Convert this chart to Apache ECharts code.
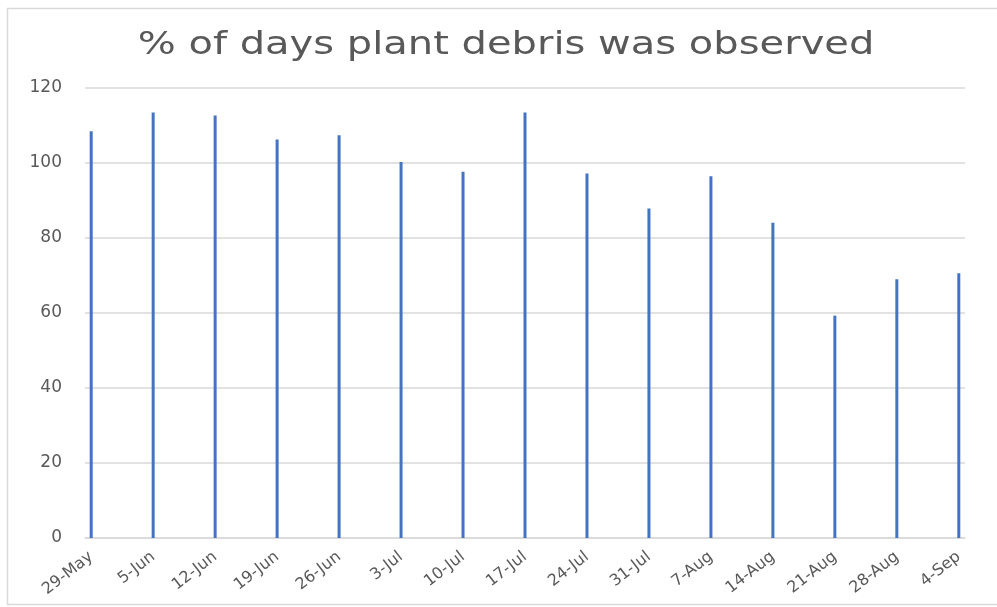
<!DOCTYPE html>
<html>
<head>
<meta charset="utf-8">
<script src="https://cdn.jsdelivr.net/npm/echarts@6/dist/echarts.min.js"></script>
<style>html,body{margin:0;padding:0;background:#fff}#c{width:997px;height:607px}</style>
</head>
<body>
<div id="c"></div>
<script>
var categories = ['29-May','5-Jun','12-Jun','19-Jun','26-Jun','3-Jul','10-Jul','17-Jul','24-Jul','31-Jul','7-Aug','14-Aug','21-Aug','28-Aug','4-Sep'];
var dayOffsets = [0,7,14,21,28,35,42,49,56,63,70,77,84,91,98];
var values = [108.5,113.5,112.7,106.3,107.4,100.3,97.7,113.5,97.2,87.9,96.5,84.1,59.3,69.0,70.6];
var yTicks = [0,20,40,60,80,100,120];
var chartTitle = '% of days plant debris was observed';

var labelByDay = {};
dayOffsets.forEach(function(d,i){ labelByDay[d] = categories[i]; });

var chart = echarts.init(document.getElementById('c'));
chart.setOption({
  animation: false,
  backgroundColor: '#fff',
  graphic: [{
    type: 'rect',
    shape: { x: 7.5, y: 8.5, width: 1000, height: 596 },
    style: { fill: 'none', stroke: '#d9d9d9', lineWidth: 1.5 },
    silent: true, z: -1
  }, {
    type: 'text',
    x: 506, y: 46,
    scaleX: 1.25,
    style: {
      text: chartTitle,
      align: 'center', verticalAlign: 'middle',
      font: 'normal 32px "DejaVu Sans"',
      fill: '#595959'
    },
    silent: true
  }],
  grid: { left: 85, right: 32, top: 88, bottom: 69 },
  xAxis: {
    type: 'value',
    min: -0.7, max: 98.7,
    axisLine: { show: true, lineStyle: { color: '#d9d9d9', width: 1.5 } },
    axisTick: { show: false },
    splitLine: { show: false },
    axisLabel: {
      customValues: dayOffsets,
      formatter: function(v){ return labelByDay[Math.round(v)] || ''; },
      rotate: 38,
      margin: 17,
      fontFamily: 'DejaVu Sans', fontSize: 16, color: '#595959'
    }
  },
  yAxis: {
    type: 'value',
    min: yTicks[0], max: yTicks[yTicks.length-1], interval: 20,
    axisLine: { show: false },
    axisTick: { show: false },
    splitLine: { lineStyle: { color: '#d9d9d9', width: 1.5 } },
    axisLabel: { margin: 23, fontFamily: 'DejaVu Sans', fontSize: 17, color: '#595959' }
  },
  series: [{
    type: 'bar',
    barWidth: 3,
    itemStyle: { color: '#4472C4' },
    data: dayOffsets.map(function(d,i){ return [d, values[i]]; })
  }]
});
</script>
</body>
</html>
